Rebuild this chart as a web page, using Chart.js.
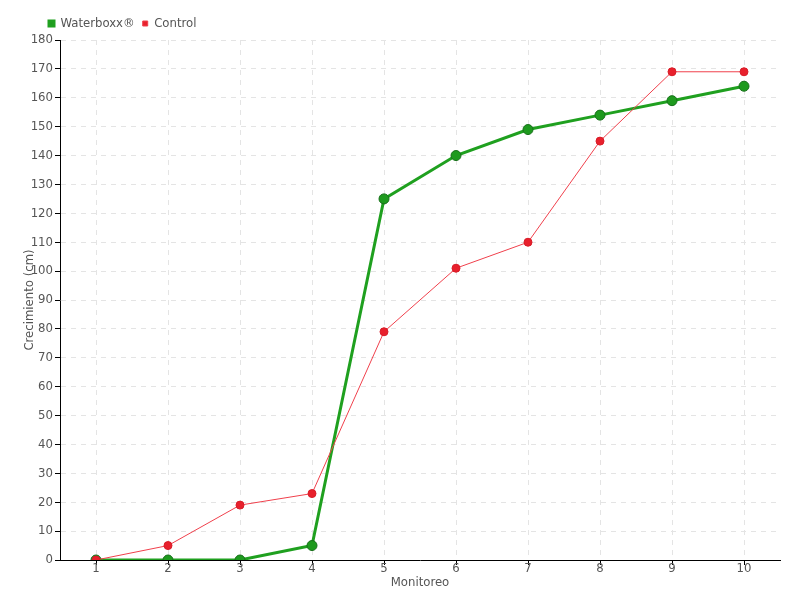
<!DOCTYPE html>
<html>
<head>
<meta charset="utf-8">
<script src="https://cdn.jsdelivr.net/npm/chart.js@4/dist/chart.umd.min.js"></script>
<style>
  html, body { margin: 0; padding: 0; background: #fff; }
</style>
</head>
<body>
<canvas id="growthChart" width="800" height="600"></canvas>
<script>
const monitoreo = ['1', '2', '3', '4', '5', '6', '7', '8', '9', '10'];
const waterboxx = [0, 0, 0, 5, 125, 140, 149, 154, 159, 164];
const control = [0, 5, 19, 23, 79, 101, 110, 145, 169, 169];

const fontFamily = "'DejaVu Sans Condensed', 'Liberation Sans Narrow', sans-serif";
const textColor = '#555';

// shift legend so it starts near the y axis, like the original
const legendShift = {
    id: 'legendShift',
    afterLayout(chart) {
        if (chart.legend) chart.legend.left += 41;
    }
};

const ctx = document.getElementById('growthChart').getContext('2d');
const growthChart = new Chart(ctx, {
    type: 'line',
    data: {
        labels: monitoreo,
        datasets: [{
            label: 'Waterboxx®',
            data: waterboxx,
            borderColor: '#1fa01f',
            backgroundColor: '#1e9a1e',
            pointBorderColor: '#17701a',
            pointBorderWidth: 1,
            pointRadius: 5,
            borderWidth: 3,
            tension: 0,
            order: 1
        }, {
            label: 'Control',
            data: control,
            borderColor: '#f0404c',
            backgroundColor: '#e8202c',
            pointBorderColor: '#d81c28',
            pointBorderWidth: 1,
            pointRadius: 4,
            borderWidth: 1,
            tension: 0,
            order: 0
        }]
    },
    plugins: [legendShift],
    options: {
        responsive: false,
        animation: false,
        devicePixelRatio: 1,
        layout: { padding: { left: 0, right: 20, top: 9, bottom: 0 } },
        plugins: {
            legend: {
                align: 'start',
                labels: {
                    boxWidth: 5,
                    boxHeight: 5,
                    padding: 8,
                    color: textColor,
                    font: { family: fontFamily, size: 13 },
                    sort: function(a, b) { return a.datasetIndex - b.datasetIndex; }
                }
            },
            tooltip: { enabled: false }
        },
        scales: {
            x: {
                offset: true,
                grid: {
                    offset: false,
                    color: '#e4e4e4',
                    tickColor: '#000',
                    tickBorderDash: [],
                    tickLength: 5
                },
                border: { color: '#000', width: 1, dash: [5, 5] },
                ticks: { color: textColor, font: { family: fontFamily, size: 13 }, padding: -4, autoSkip: false, maxRotation: 0 },
                title: {
                    display: true,
                    text: 'Monitoreo',
                    color: textColor,
                    font: { family: fontFamily, size: 13 },
                    padding: { top: 0, bottom: 10 }
                },
                afterFit: function(scale) { scale.height = 40; }
            },
            y: {
                min: 0,
                max: 180,
                grid: {
                    color: '#e4e4e4',
                    tickColor: '#000',
                    tickBorderDash: [],
                    tickLength: 5
                },
                border: { color: '#000', width: 1, dash: [5, 5] },
                ticks: { stepSize: 10, autoSkip: false, color: textColor, font: { family: fontFamily, size: 13 }, padding: 2 },
                title: {
                    display: true,
                    text: 'Crecimiento (cm)',
                    color: textColor,
                    font: { family: fontFamily, size: 13 },
                    padding: { top: 22, bottom: 0 }
                },
                afterFit: function(scale) { scale.width = 60; }
            }
        }
    }
});
</script>
</body>
</html>
